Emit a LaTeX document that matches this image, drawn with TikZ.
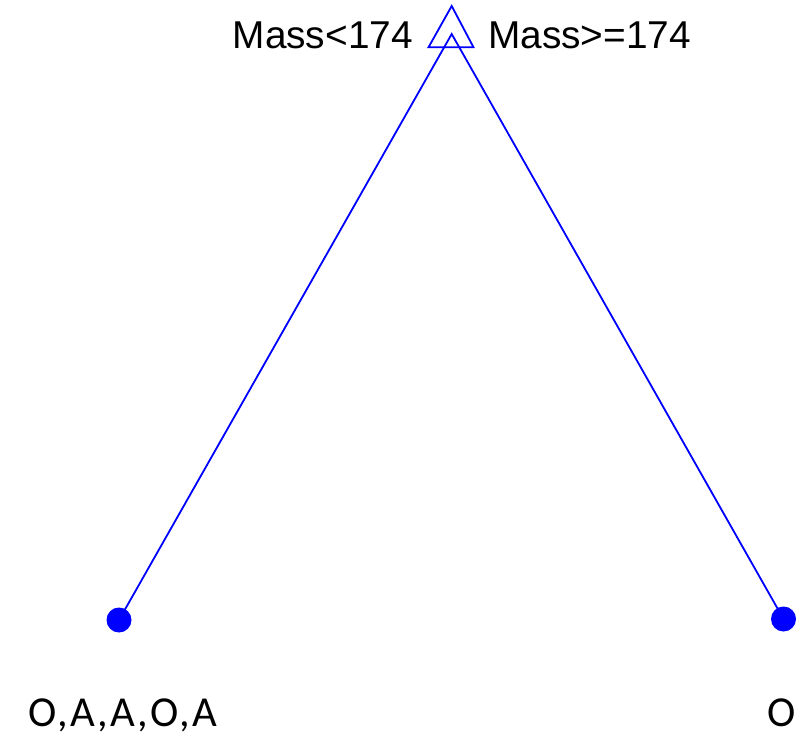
\documentclass[tikz,border=0pt]{standalone}
\usepackage{fontspec}
\setmainfont{Liberation Sans}
\newfontfamily\calfont[LetterSpace=4.7]{Carlito}
\begin{document}
\begin{tikzpicture}[x=1pt,y=-1pt,
  edge/.style={draw=blue,line width=1.8pt},
  leaf/.style={circle,fill=blue,inner sep=0pt,minimum size=25pt},
  cond/.style={font=\fontsize{38.8}{40}\selectfont,inner sep=0pt},
  lbl/.style={font=\calfont\fontsize{42.7}{44}\selectfont,inner sep=0pt}]
\useasboundingbox (0,0) rectangle (807,738);
\draw[draw=blue,line width=1.8pt,line join=miter] (451.7,6) -- (473.5,47.3) -- (428.5,47.3) -- cycle;
\coordinate (root) at (451.7,34);
\node[leaf] (l) at (119,620) {};
\node[leaf] (r) at (783.5,619) {};
\draw[edge] (l.center) -- (root) -- (r.center);
\node[cond,anchor=base east] (c1) at (413,48.3) {Mass<174};
\node[cond,anchor=base west] (c2) at (488,48.3) {Mass>=174};
\node[lbl,anchor=base west] (t1) at (28,726) {O,A,A,O,A};
\node[lbl,anchor=base west] (t2) at (767,726) {O};
\end{tikzpicture}
\end{document}
